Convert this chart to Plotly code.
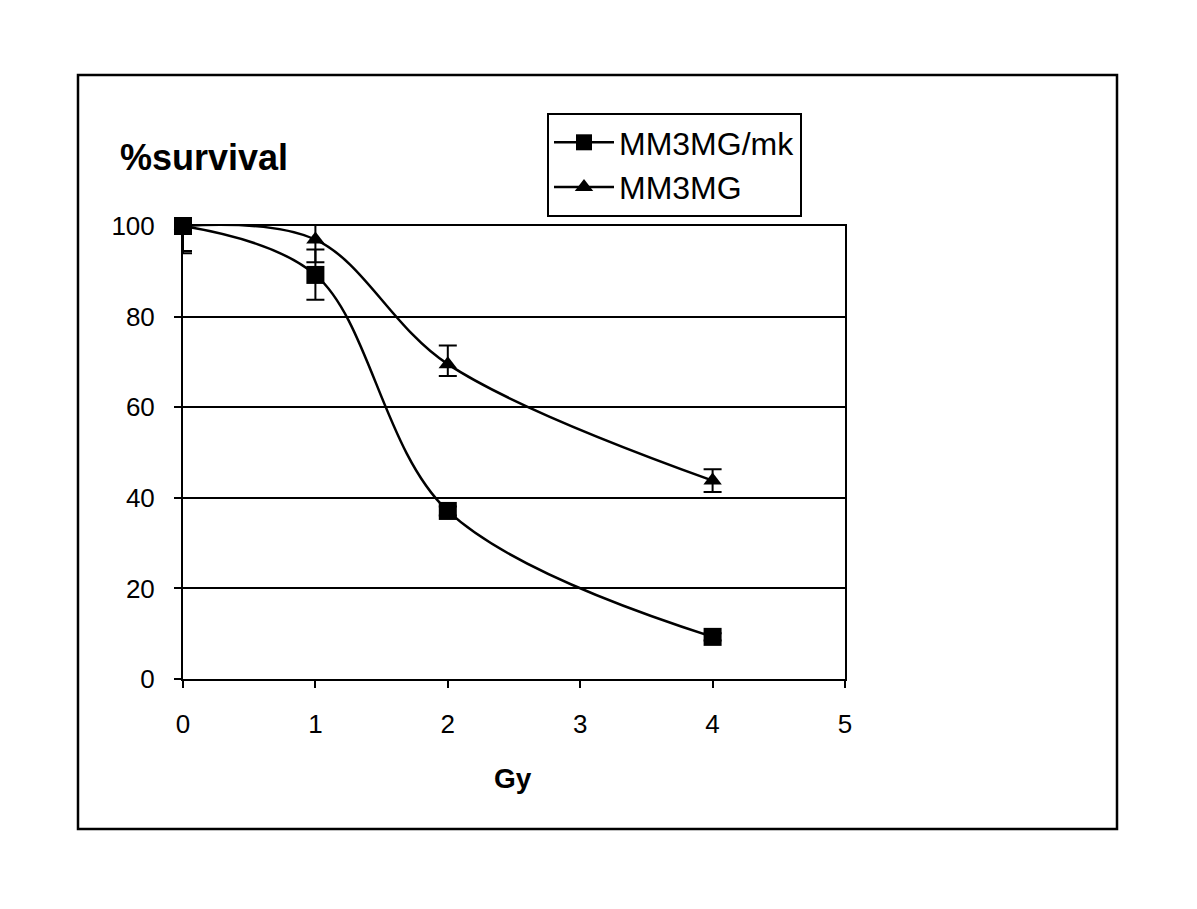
import plotly.graph_objects as go

dose = [0, 1, 2, 4]
mk_survival = [100, 89.2, 37.1, 9.3]
mk_err_plus = [0, 5.6, 1.0, 0.8]
mk_err_minus = [5.5, 5.5, 1.0, 0.8]
mm_survival = [100, 97.0, 69.5, 43.8]
mm_err_plus = [0, 4.9, 4.1, 2.5]
mm_err_minus = [6.0, 5.0, 2.6, 2.5]

x_ticks = [0, 1, 2, 3, 4, 5]
y_ticks = [0, 20, 40, 60, 80, 100]

FONT = "Liberation Sans, Arial, sans-serif"

OFF = 8  # page body margin
W, H = 1197 - 2 * OFF, 909 - 2 * OFF
L, R, T, B = 183, 845, 226, 679
pw, ph = R - L, B - T

def px(x):
    return (x - L) / pw

def py(y):
    return (B - y) / ph

fig = go.Figure()
fig.add_trace(go.Scatter(
    x=dose, y=mk_survival, name="MM3MG/mk", mode="lines+markers",
    line=dict(color="black", width=2.5, shape="spline", smoothing=1.0),
    marker=dict(symbol="square", size=18, color="black"),
    error_y=dict(type="data", array=mk_err_plus, arrayminus=mk_err_minus,
                 color="black", thickness=2, width=9),
    cliponaxis=False,
))
fig.add_trace(go.Scatter(
    x=dose, y=mm_survival, name="MM3MG", mode="lines+markers",
    line=dict(color="black", width=2.5, shape="spline", smoothing=1.0),
    marker=dict(symbol="triangle-up", size=16, color="black"),
    error_y=dict(type="data", array=mm_err_plus, arrayminus=mm_err_minus,
                 color="black", thickness=2, width=9),
    cliponaxis=False,
))

fig.update_layout(
    width=W, height=H,
    margin=dict(l=L - OFF, r=(W + OFF) - R, t=T - OFF, b=(H + OFF) - B, pad=0),
    paper_bgcolor="white", plot_bgcolor="white",
    font=dict(family=FONT, color="black", size=26),
    showlegend=True,
    legend=dict(
        x=px(547), y=py(113), xanchor="left", yanchor="top",
        bordercolor="black", borderwidth=2, bgcolor="white",
        font=dict(size=32, family=FONT), itemwidth=60,
        tracegroupgap=0,
    ),
    xaxis=dict(
        range=[0, 5], tickvals=x_ticks, ticktext=[str(v) for v in x_ticks],
        showline=True, linecolor="black", linewidth=2, mirror=True,
        ticks="outside", ticklen=7, tickwidth=2, tickcolor="black",
        showgrid=False, zeroline=False, tickfont=dict(size=26),
        ticklabelstandoff=14,
    ),
    yaxis=dict(
        range=[0, 100], tickvals=y_ticks, ticktext=[str(v) for v in y_ticks],
        showline=True, linecolor="black", linewidth=2, mirror=True,
        ticks="outside", ticklen=7, tickwidth=2, tickcolor="black",
        showgrid=True, gridcolor="black", gridwidth=2, zeroline=False,
        tickfont=dict(size=26), ticklabelstandoff=14,
    ),
    shapes=[dict(type="rect", xref="paper", yref="paper",
                 x0=px(78), x1=px(1117), y0=py(829), y1=py(75),
                 line=dict(color="black", width=2.5), layer="below")],
    annotations=[
        dict(text="<b>%survival</b>", xref="paper", yref="paper",
             x=px(118), y=py(157), xanchor="left", yanchor="middle",
             showarrow=False, font=dict(size=36, family=FONT)),
        dict(text="<b>Gy</b>", xref="paper", yref="paper",
             x=px(513), y=py(778), xanchor="center", yanchor="middle",
             showarrow=False, font=dict(size=28, family=FONT)),
    ],
)

fig.write_html("out.html")
